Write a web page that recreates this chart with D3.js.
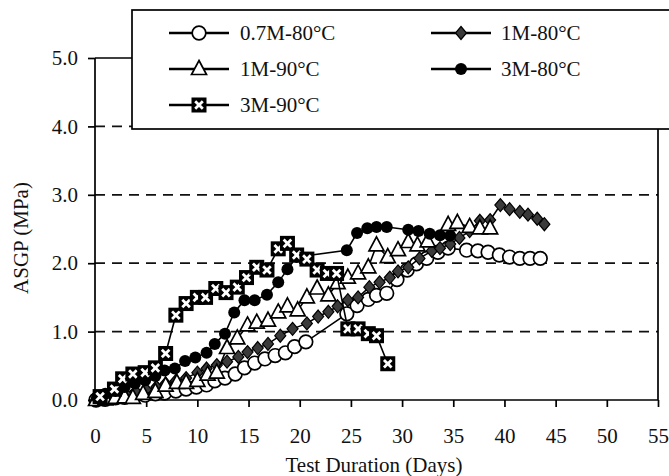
<!DOCTYPE html>
<html>
<head>
<meta charset="utf-8">
<script src="https://cdn.jsdelivr.net/npm/d3@7"></script>
<style>
  body { margin: 0; background: #fff; }
  svg text { font-family: "Liberation Serif", "Times New Roman", serif; fill: #111; }
</style>
</head>
<body>
<svg id="chart" width="669" height="476"></svg>
<script>
// Series: days and ASGP (MPa)
const daysA = [0.1,1.0,2.0,2.9,3.9,4.9,5.9,6.8,7.9,8.9,9.9,10.9,11.7,12.7,13.7,14.6,15.6,16.6,17.6,18.6,19.5,20.6,24.6,25.6,26.7,27.5,28.5,29.5,30.5,31.4,32.4,33.5,34.5,36.3,37.4,38.4,39.5,40.5,41.5,42.5,43.5];
const valsA = [0.00,0.01,0.03,0.04,0.06,0.07,0.09,0.10,0.13,0.16,0.19,0.22,0.28,0.32,0.38,0.47,0.54,0.60,0.65,0.69,0.78,0.85,1.26,1.38,1.47,1.53,1.56,1.76,1.90,1.99,2.07,2.16,2.22,2.19,2.18,2.16,2.12,2.09,2.07,2.07,2.07];

const daysB = [0.1,1.1,2.1,3,4,5,6,6.9,7.9,8.9,10,10.9,11.9,12.9,14,14.9,15.9,16.9,18.1,19.3,20.7,21.8,22.8,23.7,24.7,25.7,26.8,27.8,28.8,29.6,30.6,31.7,32.9,33.7,34.7,35.6,36.6,37.6,38.6,39.6,40.5,41.5,42.3,43.2,43.9];
const valsB = [0.00,0.03,0.06,0.09,0.12,0.15,0.19,0.24,0.28,0.32,0.40,0.46,0.51,0.56,0.63,0.70,0.76,0.82,0.94,1.04,1.12,1.22,1.29,1.37,1.46,1.50,1.65,1.72,1.79,1.88,1.94,2.07,2.18,2.22,2.28,2.37,2.47,2.62,2.63,2.85,2.79,2.75,2.71,2.65,2.57];

const daysC = [0.1,1.0,2.0,2.9,3.7,4.7,5.9,6.9,8.0,8.9,10.0,11.0,11.9,12.9,13.9,14.9,15.8,16.9,17.9,18.8,19.8,20.7,21.7,22.8,23.7,24.7,25.7,26.7,27.5,28.6,29.6,30.6,31.5,32.5,34.5,35.4,36.6,37.6,38.6];
const valsC = [0.00,0.01,0.03,0.04,0.03,0.09,0.12,0.21,0.25,0.25,0.28,0.37,0.40,0.76,0.90,1.09,1.13,1.16,1.28,1.37,1.31,1.50,1.63,1.53,1.71,1.79,1.85,1.94,2.26,2.09,2.19,2.31,2.26,2.32,2.56,2.59,2.53,2.51,2.51];

const daysD = [0.2,1.0,2.0,2.9,3.9,4.9,5.9,6.8,7.8,8.8,9.8,10.9,11.7,12.7,13.6,14.6,15.6,16.8,17.9,18.8,19.7,24.6,25.6,26.6,27.5,28.5,30.6,31.6,32.7,33.7,34.7];
const valsD = [0.04,0.09,0.13,0.19,0.24,0.29,0.35,0.43,0.46,0.57,0.62,0.69,0.82,0.97,1.28,1.46,1.46,1.54,1.72,1.91,2.09,2.19,2.44,2.51,2.53,2.53,2.49,2.47,2.43,2.41,2.40];

const daysE = [0.5,1.9,2.7,3.7,4.9,5.9,6.9,7.9,8.9,10.0,10.8,11.8,12.8,13.9,14.8,15.8,16.8,17.9,18.8,19.7,20.7,21.7,22.7,23.6,24.7,25.7,26.7,27.5,28.6];
const valsE = [0.05,0.16,0.31,0.38,0.40,0.47,0.68,1.24,1.41,1.50,1.50,1.63,1.57,1.65,1.79,1.94,1.90,2.21,2.29,2.12,2.06,1.90,1.85,1.85,1.04,1.04,0.97,0.94,0.53];

const seriesNames = ["0.7M-80\u00B0C", "1M-80\u00B0C", "1M-90\u00B0C", "3M-80\u00B0C", "3M-90\u00B0C"];
const markerTypes = ["circle", "diamond", "triangle", "dot", "boxx"];
const xTicks = [0,5,10,15,20,25,30,35,40,45,50,55];
const yTicks = [0,1,2,3,4,5];
const gridVals = [1,2,3,4];

const allDays = [daysA, daysB, daysC, daysD, daysE];
const allVals = [valsA, valsB, valsC, valsD, valsE];

const svg = d3.select("#chart");
const x = d3.scaleLinear().domain([0, 55]).range([95, 658]);
const y = d3.scaleLinear().domain([0, 5]).range([400, 58]);

// draw a marker centred on 0,0 inside g
function drawMarker(g, type) {
    if (type === "circle") {
        g.append("circle").attr("r", 6.8).attr("fill", "#fff").attr("stroke", "#000").attr("stroke-width", 1.7);
    } else if (type === "diamond") {
        g.append("path").attr("d", "M0,-6.5L5.5,0L0,6.5L-5.5,0Z")
            .attr("fill", "#3a3a3a").attr("stroke", "#000").attr("stroke-width", 1.2);
    } else if (type === "triangle") {
        g.append("path").attr("d", "M0,-8.5L7.5,5.5L-7.5,5.5Z")
            .attr("fill", "#fff").attr("stroke", "#000").attr("stroke-width", 1.7);
    } else if (type === "dot") {
        g.append("circle").attr("r", 6).attr("fill", "#000");
    } else if (type === "boxx") {
        g.append("rect").attr("x", -7.5).attr("y", -7.5).attr("width", 15).attr("height", 15).attr("fill", "#000");
        g.append("path").attr("d", "M-3.8,-3.8L3.8,3.8M3.8,-3.8L-3.8,3.8")
            .attr("stroke", "#fff").attr("stroke-width", 2.8);
    }
}

// dashed gridlines
svg.selectAll(".grid")
    .data(gridVals)
    .enter().append("line")
    .attr("class", "grid")
    .attr("x1", x(0)).attr("x2", x(55))
    .attr("y1", d => y(d)).attr("y2", d => y(d))
    .attr("stroke", "#111").attr("stroke-width", 1.8)
    .attr("stroke-dasharray", "10,7");

// frame
svg.append("path")
    .attr("d", `M${x(0)},${y(5)}L${x(0)},${y(0)}L${x(55)},${y(0)}L${x(55)},${y(5)}L${x(0)},${y(5)}`)
    .attr("fill", "none").attr("stroke", "#000").attr("stroke-width", 1.7);

// axes
const xAxis = svg.append("g")
    .attr("transform", `translate(0,${y(0)})`)
    .call(d3.axisBottom(x).tickValues(xTicks).tickSize(7).tickPadding(21).tickFormat(d3.format("d")));
const yAxis = svg.append("g")
    .attr("transform", `translate(${x(0)},0)`)
    .call(d3.axisLeft(y).tickValues(yTicks).tickSize(7).tickPadding(10).tickFormat(d3.format(".1f")));
[xAxis, yAxis].forEach(a => {
    a.select(".domain").remove();
    a.selectAll(".tick line").attr("stroke", "#000").attr("stroke-width", 1.7);
    a.selectAll("text").attr("font-size", 21).attr("fill", "#111");
});

// series: line first, then markers
allDays.forEach((days, i) => {
    const pts = days.map((d, j) => [d, allVals[i][j]]);
    svg.append("path")
        .datum(pts)
        .attr("fill", "none").attr("stroke", "#000").attr("stroke-width", 1.6)
        .attr("d", d3.line().x(d => x(d[0])).y(d => y(d[1])));
    svg.append("g").selectAll("g")
        .data(pts)
        .enter().append("g")
        .attr("transform", d => `translate(${x(d[0])},${y(d[1])})`)
        .each(function() { drawMarker(d3.select(this), markerTypes[i]); });
});

// axis titles
svg.append("text")
    .attr("x", 374).attr("y", 472)
    .attr("text-anchor", "middle").attr("font-size", 21)
    .text("Test Duration (Days)");
svg.append("text")
    .attr("transform", "translate(28,238) rotate(-90)")
    .attr("text-anchor", "middle").attr("font-size", 21)
    .text("ASGP (MPa)");

// legend box
svg.append("rect")
    .attr("x", 132).attr("y", 10).attr("width", 545).attr("height", 119)
    .attr("fill", "#fff").attr("stroke", "#000").attr("stroke-width", 1.7);

const legendCol = [199, 461];
const legendText = [240, 501];
const legendRow = [33, 69, 105];
const legendPos = [[0,0],[1,0],[0,1],[1,1],[0,2]];
seriesNames.forEach((name, i) => {
    const col = legendPos[i][0];
    const cx = legendCol[col];
    const cy = legendRow[legendPos[i][1]];
    const g = svg.append("g");
    g.append("line")
        .attr("x1", cx - 30).attr("x2", cx + 30)
        .attr("y1", cy).attr("y2", cy)
        .attr("stroke", "#000").attr("stroke-width", 2.6);
    drawMarker(g.append("g").attr("transform", `translate(${cx},${cy})`), markerTypes[i]);
    g.append("text")
        .attr("x", legendText[col]).attr("y", cy + 7)
        .attr("font-size", 21)
        .text(name);
});
</script>
</body>
</html>
